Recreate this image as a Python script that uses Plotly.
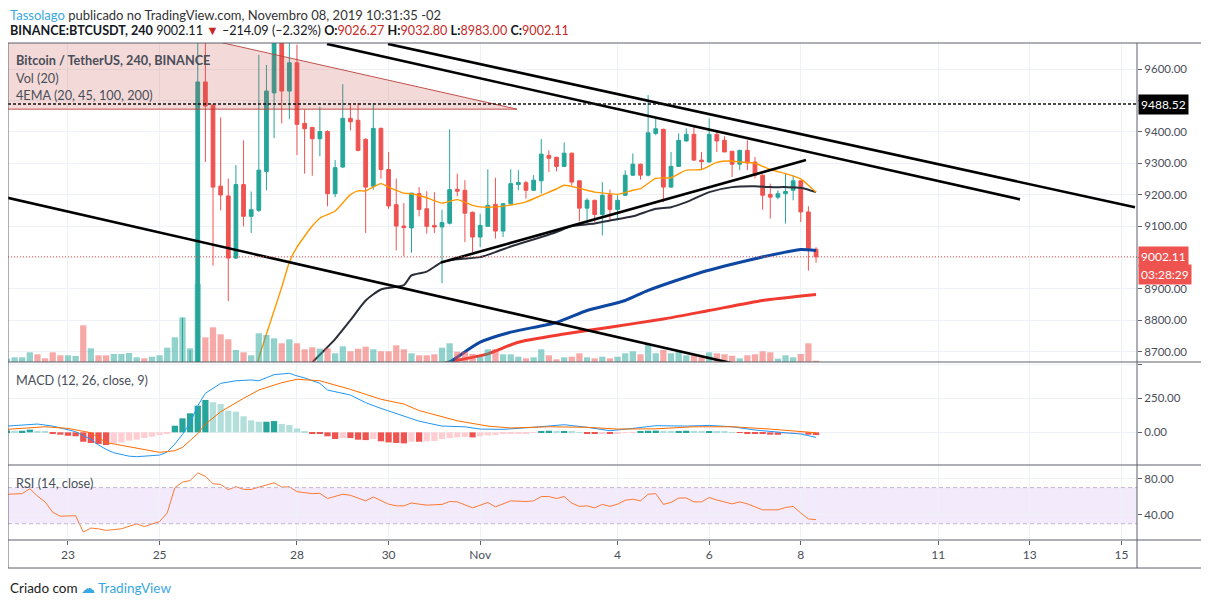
import pandas as pd
import plotly.graph_objects as go

# ---------------- data (4h candles, k = -25 .. 81, k=0 -> 2019-10-25 20:00) ----------------
TIMES = pd.date_range("2019-10-21 16:00", periods=107, freq="4h")
K0 = 25

OPEN = [8230, 8245, 8260, 8275, 8310, 8240, 8215, 8130, 8060, 8095, 8100, 7520, 7600, 7540, 7470,
        7495, 7510, 7530, 7540, 7495, 7515, 7530, 7680, 8020, 8450,
        8580, 9559, 9485, 9227, 9196, 8998, 9232, 9131, 9150, 9274, 9524, 9760, 9530, 9620, 9427,
        9414, 9378, 9401, 9203, 9288, 9443, 9437, 9376, 9227, 9411, 9280, 9168, 9100, 9094, 9203,
        9155, 9102, 9097, 9109, 9217, 9214, 9144, 9065, 9099, 9169, 9084, 9171, 9232, 9238, 9214,
        9244, 9325, 9319, 9290, 9332, 9244, 9157, 9182, 9137, 9200, 9153, 9198, 9262, 9297, 9262,
        9395, 9408, 9224, 9290, 9371, 9392, 9310, 9304, 9392, 9373, 9338, 9297, 9341, 9304, 9262,
        9201, 9192, 9203, 9214, 9244, 9145, 9026.27]
HIGH = [8260, 8275, 8290, 8330, 8320, 8255, 8225, 8150, 8110, 8120, 8110, 7620, 7615, 7560, 7510,
        7530, 7545, 7550, 7550, 7530, 7540, 7700, 8050, 8808, 8705,
        9900, 9850, 9490, 9446, 9251, 9294, 9373, 9210, 9645, 9613, 9850, 9850, 9720, 9677, 9471,
        9416, 9480, 9405, 9310, 9552, 9492, 9492, 9380, 9492, 9414, 9336, 9251, 9173, 9205, 9224,
        9211, 9208, 9152, 9408, 9267, 9246, 9146, 9139, 9281, 9254, 9173, 9281, 9278, 9244, 9262,
        9377, 9341, 9321, 9366, 9334, 9246, 9189, 9184, 9240, 9216, 9198, 9278, 9331, 9299, 9517,
        9448, 9410, 9336, 9395, 9411, 9418, 9336, 9443, 9403, 9386, 9340, 9343, 9373, 9320, 9264,
        9235, 9214, 9267, 9262, 9246, 9163, 9032.80]
LOW = [8200, 8230, 8240, 8260, 8220, 8200, 8110, 8040, 8040, 8070, 7480, 7450, 7520, 7440, 7440,
       7470, 7490, 7510, 7480, 7480, 7490, 7520, 7670, 8000, 8380,
       8560, 9304, 8974, 9150, 8861, 8995, 9099, 9078, 9145, 9214, 9380, 9427, 9440, 9326, 9267,
       9260, 9322, 9163, 9192, 9285, 9405, 9338, 9078, 9216, 9251, 9155, 9022, 9004, 9015, 9131,
       9076, 9078, 8918, 9105, 9195, 9049, 9017, 9033, 9097, 9060, 9065, 9169, 9214, 9187, 9212,
       9203, 9272, 9274, 9288, 9230, 9115, 9108, 9113, 9070, 9121, 9118, 9196, 9260, 9248, 9258,
       9389, 9176, 9222, 9288, 9369, 9308, 9278, 9302, 9336, 9335, 9256, 9278, 9278, 9252, 9152,
       9124, 9185, 9108, 9182, 9113, 8958, 8983.00]
CLOSE = [8245, 8260, 8275, 8310, 8240, 8215, 8130, 8060, 8095, 8100, 7520, 7600, 7540, 7470, 7495,
         7510, 7530, 7540, 7495, 7515, 7530, 7680, 8020, 8450, 8580,
         9559, 9482, 9224, 9199, 8998, 9232, 9131, 9152, 9278, 9530, 9760, 9530, 9620, 9424, 9410,
         9378, 9401, 9203, 9286, 9443, 9432, 9341, 9224, 9411, 9280, 9164, 9100, 9095, 9205, 9153,
         9099, 9097, 9111, 9216, 9211, 9141, 9065, 9102, 9166, 9084, 9171, 9235, 9239, 9214, 9246,
         9329, 9316, 9290, 9332, 9240, 9157, 9182, 9137, 9198, 9153, 9182, 9262, 9297, 9262, 9397,
         9410, 9224, 9290, 9373, 9392, 9310, 9305, 9392, 9371, 9336, 9297, 9341, 9301, 9262, 9198,
         9192, 9203, 9210, 9244, 9145, 9028, 9002.11]
VOLUME = [330, 470, 470, 970, 770, 370, 970, 670, 670, 600, 3670, 1370, 670, 670, 800,
          800, 900, 470, 370, 530, 670, 1430, 2470, 4470, 1370,
          7800, 2470, 3470, 2770, 2270, 1200, 970, 670, 2870, 2700, 2370, 1870, 2270, 1870, 1270,
          1470, 1330, 1370, 870, 1570, 1070, 1330, 1530, 1270, 1070, 1070, 1670, 1270, 870, 670,
          670, 770, 1430, 1870, 1030, 1030, 800, 530, 1270, 1270, 770, 770, 530, 370, 470,
          1270, 670, 270, 470, 530, 870, 470, 370, 530, 370, 530, 870, 1070, 770, 1800,
          870, 1200, 870, 1030, 670, 670, 470, 970, 870, 770, 630, 370, 670, 770, 1070,
          970, 330, 670, 470, 800, 1870, 130]

# EMA readings: candle offset k and value
EMA20_K = [-25, -15, -5, 0, 4, 8, 10, 11, 12, 13, 15, 16, 18, 20, 21, 22, 24, 25, 27, 28, 30, 32, 34,
           36, 37, 39, 41, 43, 45, 47, 48, 50, 52, 54, 55, 57, 58, 60, 62, 64, 66, 68, 70, 71, 73,
           75, 77, 79, 80, 81]
EMA20 = [8150, 8050, 7620, 7750, 8320, 8680, 8830, 8905, 8985, 9033, 9100, 9125, 9148, 9200, 9212,
         9212, 9235, 9224, 9205, 9203, 9190, 9173, 9184, 9166, 9161, 9161, 9167, 9177, 9198, 9218,
         9230, 9220, 9208, 9203, 9201, 9214, 9219, 9252, 9254, 9278, 9280, 9303, 9307, 9304, 9300,
         9280, 9267, 9250, 9230, 9208]
EMA45_K = [-25, 0, 8, 12, 15, 16, 18, 20, 22, 24, 27, 28, 30, 32, 34, 37, 39, 41, 45, 47, 49, 52, 54,
           57, 60, 62, 64, 67, 70, 73, 75, 77, 79, 81]
EMA45 = [8100, 7900, 8350, 8560, 8665, 8690, 8740, 8800, 8863, 8898, 8912, 8943, 8955, 8985, 8994,
         9001, 9017, 9035, 9065, 9081, 9100, 9108, 9118, 9131, 9155, 9160, 9176, 9208, 9224, 9227,
         9224, 9224, 9222, 9208]
EMA100_K = [-25, 0, 20, 28, 33, 37, 41, 47, 51, 56, 59, 66, 73, 77, 79, 81]
EMA100 = [8150, 7950, 8450, 8600, 8667, 8730, 8762, 8793, 8831, 8863, 8895, 8953, 8996, 9017, 9025, 9022]
EMA200_K = [-25, 0, 15, 25, 33, 38, 42, 48, 54, 61, 67, 74, 81]
EMA200 = [8200, 8050, 8400, 8610, 8667, 8693, 8730, 8756, 8778, 8804, 8831, 8863, 8882]

# MACD (12, 26, 9) readings
MACD_K = [-25, -23, -21, -19, -17, -16, -15, -14, -13, -12, -11, -10, -9, -8, -7, -6, -5, -4, -3, -2,
          -1, 0, 1, 3, 5, 7, 8, 10, 12, 13, 14, 16, 17, 20, 22, 24, 27, 29, 32, 35, 37, 40, 44, 48,
          51, 54, 57, 60, 64, 67, 70, 73, 77, 79, 81]
MACD = [46, 55, 61, 46, 17, 5, -25, -50, -93, -125, -150, -165, -175, -179, -176, -172, -167, -145,
        -86, -15, 70, 195, 287, 360, 379, 385, 379, 424, 434, 415, 400, 360, 311, 274, 218, 176, 117,
        82, 46, 41, 24, 22, 37, 56, 37, 12, 29, 49, 46, 51, 41, 17, -3, -12, -37]
SIGNAL_K = [-25, -20, -17, -14, -12, -8, -5, -3, -2, -1, 0, 1, 3, 6, 8, 11, 13, 16, 20, 24, 27, 29,
            34, 38, 41, 46, 51, 55, 60, 65, 70, 75, 79, 81]
SIGNAL = [22, 41, 29, -3, -75, -118, -147, -135, -110, -60, -10, 60, 151, 250, 311, 365, 390, 379,
          316, 243, 208, 160, 85, 46, 32, 41, 37, 24, 26, 41, 41, 24, 7, -3]
HIST = [14, 12, 12, 20, 8, 4, -12, -17, -25, -29, -69, -78, -86, -93, -81, -74, -61, -54, -42, -32,
        -20, -5, 49, 103, 140,
        196, 238, 221, 208, 159, 152, 118, 88, 78, 78, 83, 61, 54, 29, 7, -7, -12, -29, -49, -42,
        -42, -54, -57, -49, -66, -74, -78, -81, -69, -69, -66, -64, -49, -42, -37, -34, -37, -29,
        -22, -20, -12, -10, -7, -5, -1, 7, 12, 7, 10, 5, 1, -7, -12, -7, -12, -7, -3, -1, 3, 12,
        13, 5, 3, 8, 12, 5, 3, 8, 5, 3, 1, -1, -5, -8, -12, -17, -18, -12, -10, -7, -17, -20]

# RSI (14) readings
RSI_K = [-25, -23, -22, -21, -20, -19, -18, -16, -15, -14, -13, -12, -10, -8, -7, -5, -4, -3, -2, -1,
         0, 1, 2, 3, 4, 5, 6, 7, 8, 10, 11, 12, 13, 15, 16, 17, 19, 20, 22, 23, 25, 26, 27, 28, 29,
         30, 32, 33, 34, 36, 38, 39, 41, 43, 44, 45, 46, 47, 48, 49, 50, 51, 52, 53, 54, 55, 56, 57,
         58, 59, 60, 61, 62, 63, 64, 65, 66, 67, 68, 69, 70, 71, 72, 74, 76, 77, 78, 79, 80, 81]
RSI = [62.6, 63.3, 68.8, 60.7, 54.2, 42.6, 38.3, 38.9, 20.8, 25.2, 24.4, 22.6, 24.4, 29.9, 26.9, 32.4,
       41.9, 69.9, 76.0, 77.8, 86.2, 82.5, 74.2, 73.5, 67.7, 71.0, 68.0, 68.0, 70.5, 75.3, 70.5, 70.9,
       65.5, 63.3, 63.6, 57.9, 62.6, 61.5, 55.3, 59.6, 51.7, 49.8, 49.8, 53.0, 51.7, 50.6, 51.4, 54.6,
       54.2, 47.6, 53.5, 48.7, 55.3, 54.6, 55.3, 60.1, 60.1, 57.9, 60.1, 52.8, 49.2, 49.8, 47.6, 51.4,
       49.2, 51.7, 56.0, 57.1, 55.3, 62.6, 63.3, 51.4, 53.5, 58.5, 58.5, 54.2, 54.2, 59.0, 56.3, 54.2,
       52.0, 54.2, 52.0, 45.4, 45.4, 48.0, 49.2, 41.9, 35.3, 34.5]

# drawings (time, price)
TREND_UPPER = [("2019-10-29 23:40", 9680), ("2019-11-15 07:07", 9160)]
TREND_MID = [("2019-10-28 15:43", 9680), ("2019-11-12 18:52", 9185)]
TREND_SUPPORT = [("2019-10-31 03:27", 8984), ("2019-11-08 02:44", 9310)]
TREND_LOWER = [("2019-10-21 12:00", 9196), ("2019-11-08 00:00", 8613)]
TRI_T = ["2019-10-21 12:00", "2019-10-21 12:00", "2019-11-01 19:16", "2019-10-21 12:00"]
TRI_P = [9472.3, 9843.8, 9472.3, 9472.3]
LEVEL = 9488.52
LAST = 9002.11

X_TICKS = ["2019-10-23", "2019-10-25", "2019-10-28", "2019-10-30", "2019-11-01", "2019-11-04",
           "2019-11-06", "2019-11-08", "2019-11-11", "2019-11-13", "2019-11-15"]
X_TEXT = ["23", "25", "28", "30", "Nov", "4", "6", "8", "11", "13", "15"]
PRICE_TICKS = [8700, 8800, 8900, 9000, 9100, 9200, 9300, 9400, 9500, 9600]
MACD_TICKS = [0, 250, 500]
RSI_TICKS = [40, 80]

# ---------------- figure ----------------
TEAL, RED = "#26a69a", "#ef5350"
FONT = "Lato"
TXT = "#4a4e59"
# page offset of the plot div is 8px; layout below is expressed in page pixels
OFF = 8
PL, PR, PT, PB = 8, 1137, 43, 540   # plot area in page pixels


def tk(klist):
    return [TIMES[k + K0] for k in klist]


def px_y(p):  # page pixel row -> paper y
    return (PB - p) / (PB - PT)


def px_x(p):  # page pixel col -> paper x
    return (p - PL) / (PR - PL)


vol_col = ["rgba(38,166,154,0.5)" if c >= o else "rgba(239,83,80,0.5)" for o, c in zip(OPEN, CLOSE)]
hist_col = []
for i, v in enumerate(HIST):
    prev = HIST[i - 1] if i else v
    if v >= 0:
        hist_col.append("#26a69a" if v >= prev else "#b2dfdb")
    else:
        hist_col.append("#ffcdd2" if v > prev else "#ef5350")

BARW = 4 * 3600 * 1000 * 0.82
fig = go.Figure()
fig.add_trace(go.Bar(x=TIMES, y=VOLUME, marker=dict(color=vol_col, line=dict(width=0)), width=BARW,
                     xaxis="x", yaxis="y4", hoverinfo="skip"))
fig.add_trace(go.Scatter(x=TRI_T, y=TRI_P, fill="toself", fillcolor="rgba(200,80,75,0.22)",
                         line=dict(color="rgba(185,65,60,0.9)", width=1), mode="lines",
                         xaxis="x", yaxis="y", hoverinfo="skip"))
fig.add_trace(go.Candlestick(x=TIMES, open=OPEN, high=HIGH, low=LOW, close=CLOSE,
                             increasing=dict(line=dict(color=TEAL, width=1), fillcolor=TEAL),
                             decreasing=dict(line=dict(color=RED, width=1), fillcolor=RED),
                             whiskerwidth=0, xaxis="x", yaxis="y", hoverinfo="skip"))
for kk, vv, col, w in [(EMA200_K, EMA200, "#f23b30", 3), (EMA100_K, EMA100, "#0d47a1", 3),
                       (EMA45_K, EMA45, "#2a2e39", 2), (EMA20_K, EMA20, "#ff9800", 1.4)]:
    fig.add_trace(go.Scatter(x=tk(kk), y=vv, mode="lines",
                             line=dict(color=col, width=w, shape="spline", smoothing=0.6),
                             xaxis="x", yaxis="y", hoverinfo="skip"))

fig.add_trace(go.Bar(x=TIMES, y=HIST, marker=dict(color=hist_col, line=dict(width=0)), width=BARW,
                     xaxis="x", yaxis="y2", hoverinfo="skip"))
fig.add_trace(go.Scatter(x=tk(MACD_K), y=MACD, mode="lines", line=dict(color="#2196f3", width=1),
                         xaxis="x", yaxis="y2", hoverinfo="skip"))
fig.add_trace(go.Scatter(x=tk(SIGNAL_K), y=SIGNAL, mode="lines", line=dict(color="#ff6d00", width=1),
                         xaxis="x", yaxis="y2", hoverinfo="skip"))
fig.add_trace(go.Scatter(x=tk(RSI_K), y=RSI, mode="lines", line=dict(color="#ff7a33", width=1),
                         xaxis="x", yaxis="y3", hoverinfo="skip"))

shapes = []
for (a, b) in [TREND_UPPER, TREND_MID, TREND_SUPPORT, TREND_LOWER]:
    shapes.append(dict(type="line", xref="x", yref="y", x0=a[0], y0=a[1], x1=b[0], y1=b[1],
                       line=dict(color="black", width=2.6), layer="above"))
shapes.append(dict(type="line", xref="paper", yref="y", x0=0, x1=1, y0=LEVEL, y1=LEVEL,
                   line=dict(color="#111111", width=1.5, dash="3px,2px"), layer="above"))
shapes.append(dict(type="line", xref="paper", yref="y", x0=0, x1=1, y0=LAST, y1=LAST,
                   line=dict(color=RED, width=1, dash="1px,2px"), layer="above"))
# RSI band
shapes.append(dict(type="rect", xref="paper", yref="y3", x0=0, x1=1, y0=30, y1=70,
                   fillcolor="rgba(155,80,230,0.12)", line=dict(width=0), layer="below"))
for lv in (30, 70):
    shapes.append(dict(type="line", xref="paper", yref="y3", x0=0, x1=1, y0=lv, y1=lv,
                       line=dict(color="#c4b8cc", width=1, dash="4px,3px"), layer="above"))
# frame and pane separators
FR = "#5d606b"
xr = px_x(1204.5)
yb = px_y(568)
shapes.append(dict(type="rect", xref="paper", yref="paper", x0=0, x1=xr, y0=yb, y1=1,
                   line=dict(color=FR, width=1), layer="above"))
for yy in (px_y(362), px_y(465), 0):
    shapes.append(dict(type="line", xref="paper", yref="paper", x0=0, x1=xr, y0=yy, y1=yy,
                       line=dict(color=FR, width=1), layer="above"))
shapes.append(dict(type="line", xref="paper", yref="paper", x0=1, x1=1, y0=yb, y1=1,
                   line=dict(color=FR, width=1), layer="above"))

RED_TXT = "#c62828"
ann = []
ann.append(dict(xref="paper", yref="paper", x=0, y=px_y(15.5), xanchor="left", yanchor="middle",
                showarrow=False, font=dict(family=FONT, size=13, color="#333"),
                text="<span style='color:#3aa8e0'>Tassolago</span> publicado no TradingView.com, "
                     "Novembro 08, 2019 10:31:35 -02"))
ann.append(dict(xref="paper", yref="paper", x=0, y=px_y(30.5), xanchor="left", yanchor="middle",
                showarrow=False, font=dict(family=FONT, size=12.6, color="#131722"),
                text=("<b>BINANCE:BTCUSDT, 240</b> 9002.11 <span style='color:%s'>▼</span> –214.09 "
                      "(–2.32%%) <b>O:</b><span style='color:%s'>9026.27</span> <b>H:</b>"
                      "<span style='color:%s'>9032.80</span> <b>L:</b><span style='color:%s'>8983.00</span>"
                      " <b>C:</b><span style='color:%s'>9002.11</span>") % ((RED_TXT,) * 5)))
for txt, yy, bold in [("Bitcoin / TetherUS, 240, BINANCE", 60, True), ("Vol (20)", 78, False),
                      ("4EMA (20, 45, 100, 200)", 95, False), ("MACD (12, 26, close, 9)", 380, False),
                      ("RSI (14, close)", 483, False)]:
    ann.append(dict(xref="paper", yref="paper", x=px_x(14), y=px_y(yy), xanchor="left",
                    yanchor="middle", showarrow=False,
                    font=dict(family=FONT, size=12.7, color="#4a4e59"),
                    text="<b>%s</b>" % txt if bold else txt))
ann.append(dict(xref="paper", yref="y", x=px_x(1138), y=LEVEL, xanchor="left", yanchor="middle",
                showarrow=False, bgcolor="#000000", borderpad=2,
                font=dict(family=FONT, size=12, color="white"), text="%.2f" % LEVEL))
ann.append(dict(xref="paper", yref="y", x=px_x(1138), y=LAST, xanchor="left", yanchor="middle",
                showarrow=False, bgcolor=RED, borderpad=2,
                font=dict(family=FONT, size=12, color="white"), text="%.2f" % LAST))
ann.append(dict(xref="paper", yref="paper", x=px_x(1138), y=px_y(274.5), xanchor="left",
                yanchor="middle", showarrow=False, bgcolor=RED, borderpad=2,
                font=dict(family=FONT, size=12, color="white"), text="03:28:29"))
ann.append(dict(xref="paper", yref="paper", x=0, y=px_y(588), xanchor="left", yanchor="middle",
                showarrow=False, font=dict(family=FONT, size=13.5, color="#222"),
                text="Criado com <span style='color:#3aa8e0'>☁ TradingView</span>"))

axfont = dict(family=FONT, size=11.5, color=TXT)
GRID = "#eef2f6"
price_text = ["%.2f" % v if v not in (9000, 9500) else "" for v in PRICE_TICKS]
W, H = 1209 - OFF, 605 - OFF
fig.update_layout(
    width=W, height=H,
    margin=dict(l=PL - OFF, r=W - (PR - OFF), t=PT - OFF, b=H - (PB - OFF), autoexpand=False),
    paper_bgcolor="white", plot_bgcolor="white", showlegend=False, barmode="overlay",
    font=dict(family=FONT),
    xaxis=dict(type="date", range=["2019-10-21 16:34", "2019-11-15 08:11"], anchor="y3",
               tickvals=X_TICKS, ticktext=X_TEXT, tickfont=dict(family=FONT, size=12, color=TXT),
               ticks="outside", ticklen=4,
               tickcolor=FR, showgrid=True, gridcolor=GRID, zeroline=False, showline=False,
               rangeslider=dict(visible=False), fixedrange=True),
    yaxis=dict(domain=[px_y(362), 1], range=[8667, 9683], side="right", tickvals=PRICE_TICKS,
               ticktext=price_text, tickfont=axfont, ticks="outside", ticklen=4, tickcolor=FR,
               showgrid=True, gridcolor=GRID, zeroline=False, anchor="x"),
    yaxis4=dict(domain=[px_y(362), 1], range=[0, 31900], overlaying="y", visible=False),
    yaxis2=dict(domain=[px_y(465), px_y(362)], range=[-240, 517], side="right", tickvals=MACD_TICKS,
                ticktext=["0.00", "250.00", ""], tickfont=axfont, ticks="outside", ticklen=4,
                tickcolor=FR, showgrid=True, gridcolor=GRID, zeroline=False, anchor="x"),
    yaxis3=dict(domain=[0, px_y(465)], range=[12, 95], side="right", tickvals=RSI_TICKS,
                ticktext=["40.00", "80.00"], tickfont=axfont, ticks="outside", ticklen=4,
                tickcolor=FR, showgrid=True, gridcolor=GRID, zeroline=False, anchor="x"),
    shapes=shapes, annotations=ann,
)
fig.write_html("out.html")
